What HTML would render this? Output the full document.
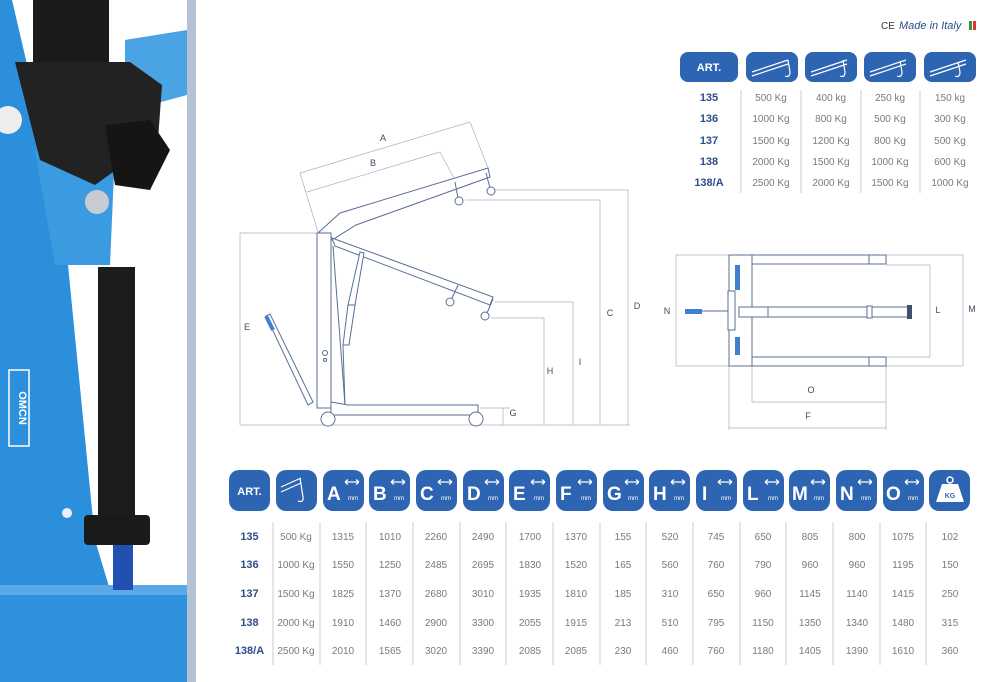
<!DOCTYPE html>
<html><head><meta charset="utf-8"><style>
html,body{margin:0;padding:0;background:#fff;}
svg{display:block;font-family:"Liberation Sans",sans-serif;}
.dim{stroke:#a8b0c0;stroke-width:0.7;fill:none}
.ln{stroke:#5a6f96;stroke-width:1;fill:#fff}
.lab{font-size:9px;fill:#3d4a66;text-anchor:middle}
.hb{fill:#2d65b3}
.ht{fill:#fff;font-weight:bold;}
.c{font-size:10px;fill:#7a7a7a;text-anchor:middle}
.a{font-size:11px;fill:#2c4e8a;font-weight:bold;text-anchor:middle}
.sep{stroke:#c9ccd2;stroke-width:1}
.ar{stroke:#fff;stroke-width:1.2;fill:none}
</style></head><body>
<svg width="1000" height="682" viewBox="0 0 1000 682" xmlns="http://www.w3.org/2000/svg">
<!-- PHOTO -->
<rect x="0" y="0" width="187" height="682" fill="#fff"/>
<polygon points="0,0 12,0 40,120 105,250 105,265 0,265" fill="#2b8fdb"/>
<polygon points="35,150 115,150 110,265 55,265" fill="#3b9be0"/>
<polygon points="125,40 187,30 187,95 150,105 125,90" fill="#4aa3e3"/>
<rect x="33" y="0" width="76" height="78" fill="#1b1b1b"/>
<polygon points="15,62 130,62 162,85 158,140 95,185 40,160" fill="#222"/>
<polygon points="105,125 150,120 170,150 150,190 115,185" fill="#151515"/>
<circle cx="97" cy="202" r="12" fill="#c8ccd2"/>
<circle cx="8" cy="120" r="14" fill="#eee"/>
<rect x="0" y="265" width="187" height="417" fill="#2c8fdc"/>
<polygon points="68,265 187,265 187,590 110,590 95,540" fill="#fff"/>
<rect x="0" y="585" width="187" height="97" fill="#2f92de"/>
<rect x="0" y="585" width="187" height="10" fill="#5aa9e6"/>
<rect x="98" y="267" width="37" height="255" fill="#1c1c1c"/>
<rect x="84" y="515" width="66" height="30" rx="4" fill="#1a1a1a"/>
<rect x="113" y="545" width="20" height="45" fill="#2150b0"/>
<rect x="9" y="370" width="20" height="76" fill="none" stroke="#fff" stroke-width="1.5"/>
<text x="19" y="408" font-size="11" font-weight="bold" fill="#fff" text-anchor="middle" transform="rotate(90 19 408)">OMCN</text>
<circle cx="67" cy="513" r="5" fill="#e8eef5"/>
<rect x="187" y="0" width="9" height="682" fill="#b3c3d3"/>

<!-- CE Made in Italy -->
<text x="881" y="29" font-size="10" fill="#333">CE</text>
<text x="899" y="29" font-size="11" font-style="italic" fill="#2c4e8a">Made in Italy</text>
<rect x="969" y="21" width="3" height="9" fill="#2a9a3a"/><rect x="973" y="21" width="3" height="9" fill="#d33"/>

<!-- TOP TABLE -->
<rect class="hb" x="680" y="52" width="58" height="30" rx="8"/>
<text x="709" y="71" class="ht" font-size="11" text-anchor="middle">ART.</text>
<g>
<rect class="hb" x="746" y="52" width="52" height="30" rx="8"/>
<rect class="hb" x="805" y="52" width="52" height="30" rx="8"/>
<rect class="hb" x="864" y="52" width="52" height="30" rx="8"/>
<rect class="hb" x="924" y="52" width="52" height="30" rx="8"/>
<g stroke="#fff" stroke-width="1.2" fill="none">
<path d="M752 72 L788 60 M752 76 L788 64 M788 60 L790 72 q0 6 -5 4"/>
<path d="M811 72 L847 60 M811 76 L847 64 M843 60 L845 72 q0 6 -5 4"/>
<path d="M870 72 L906 60 M870 76 L906 64 M900 61 L902 72 q0 6 -5 4"/>
<path d="M930 72 L966 60 M930 76 L966 64 M958 62 L960 72 q0 6 -5 4"/>
</g></g>
<g class="sep"><line x1="741" y1="90" x2="741" y2="193"/><line x1="801" y1="90" x2="801" y2="193"/><line x1="861" y1="90" x2="861" y2="193"/><line x1="920" y1="90" x2="920" y2="193"/></g>
<g>
<text class="a" x="709" y="101">135</text><text class="c" x="771" y="101" font-size="9.5">500 Kg</text><text class="c" x="831" y="101" font-size="9.5">400 kg</text><text class="c" x="890" y="101" font-size="9.5">250 kg</text><text class="c" x="950" y="101" font-size="9.5">150 kg</text>
<text class="a" x="709" y="122">136</text><text class="c" x="771" y="122" font-size="9.5">1000 Kg</text><text class="c" x="831" y="122" font-size="9.5">800 Kg</text><text class="c" x="890" y="122" font-size="9.5">500 Kg</text><text class="c" x="950" y="122" font-size="9.5">300 Kg</text>
<text class="a" x="709" y="144">137</text><text class="c" x="771" y="144" font-size="9.5">1500 Kg</text><text class="c" x="831" y="144" font-size="9.5">1200 Kg</text><text class="c" x="890" y="144" font-size="9.5">800 Kg</text><text class="c" x="950" y="144" font-size="9.5">500 Kg</text>
<text class="a" x="709" y="165">138</text><text class="c" x="771" y="165" font-size="9.5">2000 Kg</text><text class="c" x="831" y="165" font-size="9.5">1500 Kg</text><text class="c" x="890" y="165" font-size="9.5">1000 Kg</text><text class="c" x="950" y="165" font-size="9.5">600 Kg</text>
<text class="a" x="709" y="186">138/A</text><text class="c" x="771" y="186" font-size="9.5">2500 Kg</text><text class="c" x="831" y="186" font-size="9.5">2000 Kg</text><text class="c" x="890" y="186" font-size="9.5">1500 Kg</text><text class="c" x="950" y="186" font-size="9.5">1000 Kg</text>
</g>

<!-- CRANE SIDE VIEW -->
<g class="dim">
<line x1="240" y1="425" x2="630" y2="425"/>
<line x1="240" y1="233" x2="240" y2="425"/><line x1="240" y1="233" x2="317" y2="233"/>
<line x1="300" y1="173" x2="470" y2="122"/><line x1="300" y1="173" x2="318" y2="232"/><line x1="470" y1="122" x2="488" y2="168"/>
<line x1="307" y1="192" x2="440" y2="152"/><line x1="440" y1="152" x2="455" y2="180"/>
<line x1="600" y1="200" x2="600" y2="425"/><line x1="465" y1="200" x2="600" y2="200"/>
<line x1="628" y1="190" x2="628" y2="425"/><line x1="495" y1="190" x2="628" y2="190"/>
<line x1="573" y1="302" x2="573" y2="425"/><line x1="495" y1="302" x2="573" y2="302"/>
<line x1="544" y1="318" x2="544" y2="425"/><line x1="490" y1="318" x2="544" y2="318"/>
<line x1="503" y1="408" x2="503" y2="425"/><line x1="480" y1="408" x2="510" y2="408"/>
</g>
<text class="lab" x="247" y="330">E</text><text class="lab" x="383" y="141">A</text><text class="lab" x="373" y="166">B</text>
<text class="lab" x="610" y="316">C</text><text class="lab" x="637" y="309">D</text><text class="lab" x="580" y="365">I</text>
<text class="lab" x="550" y="374">H</text><text class="lab" x="513" y="416">G</text>
<g class="ln">
<polygon points="318,233 340,213 488,168 490,177 356,225 332,240"/>
<polygon points="332,238 493,297 490,305 335,246"/>
<line x1="333" y1="246" x2="345" y2="405"/>
<polygon points="360,252 364,253 355,305 348,305"/>
<polygon points="348,305 355,305 349,345 343,345"/>
<line x1="343" y1="345" x2="345" y2="405"/>
<rect x="317" y="233" width="14" height="175"/>
<polygon points="331,402 348,405 478,405 478,415 331,415"/>
<circle cx="328" cy="419" r="7"/><circle cx="476" cy="419" r="7"/>
<polygon points="266,316 270,314 313,402 308,405"/>
<line x1="455" y1="182" x2="458" y2="198"/><circle cx="459" cy="201" r="4"/>
<line x1="486" y1="173" x2="490" y2="188"/><circle cx="491" cy="191" r="4"/>
<line x1="458" y1="285" x2="452" y2="298"/><circle cx="450" cy="302" r="4"/>
<line x1="493" y1="299" x2="487" y2="313"/><circle cx="485" cy="316" r="4"/>
<circle cx="325" cy="353" r="2.5"/><circle cx="325" cy="360" r="1.5"/>
</g>
<line x1="266" y1="316" x2="273" y2="330" stroke="#3f7fd0" stroke-width="4"/>

<!-- PLAN VIEW -->
<g class="dim">
<line x1="676" y1="255" x2="676" y2="366"/><line x1="676" y1="255" x2="729" y2="255"/><line x1="676" y1="366" x2="729" y2="366"/>
<line x1="963" y1="255" x2="963" y2="366"/><line x1="886" y1="255" x2="963" y2="255"/><line x1="886" y1="366" x2="963" y2="366"/>
<line x1="930" y1="265" x2="930" y2="357"/><line x1="886" y1="265" x2="930" y2="265"/><line x1="886" y1="357" x2="930" y2="357"/>
<line x1="752" y1="402" x2="886" y2="402"/><line x1="752" y1="366" x2="752" y2="402"/><line x1="886" y1="366" x2="886" y2="430"/>
<line x1="729" y1="428" x2="886" y2="428"/><line x1="729" y1="366" x2="729" y2="430"/>
</g>
<text class="lab" x="667" y="314">N</text><text class="lab" x="972" y="312">M</text><text class="lab" x="938" y="313">L</text>
<text class="lab" x="811" y="393">O</text><text class="lab" x="808" y="419">F</text>
<g class="ln">
<rect x="729" y="255" width="23" height="111"/>
<rect x="752" y="255" width="134" height="9"/><rect x="869" y="255" width="17" height="9"/>
<rect x="752" y="357" width="134" height="9"/><rect x="869" y="357" width="17" height="9"/>
<line x1="702" y1="311" x2="729" y2="311"/>
<rect x="728" y="291" width="7" height="39"/>
<rect x="739" y="307" width="170" height="10"/>
<line x1="768" y1="307" x2="768" y2="317"/><rect x="867" y="306" width="5" height="12"/>
</g>
<rect x="685" y="309" width="17" height="5" fill="#3f7fd0"/>
<rect x="735" y="265" width="5" height="25" fill="#3f7fd0"/><rect x="735" y="337" width="5" height="18" fill="#3f7fd0"/>
<rect x="907" y="305" width="5" height="14" fill="#3f4f70"/>

<!-- BOTTOM TABLE HEADERS -->
<g>
<rect class="hb" x="229" y="470" width="41" height="41" rx="10"/><text x="249.5" y="495" class="ht" font-size="11" text-anchor="middle">ART.</text>
<rect class="hb" x="276" y="470" width="41" height="41" rx="10"/>
<path d="M281 487 L301 478 M281 492 L301 483 M300 478 L303 497 q1 6 -5 4" stroke="#fff" stroke-width="1.2" fill="none"/>
</g>
<g font-size="6" fill="#fff">
<rect class="hb" x="323" y="470" width="41" height="41" rx="10"/><text x="327" y="500" class="ht" font-size="19">A</text><text x="348" y="500">mm</text>
<rect class="hb" x="369" y="470" width="41" height="41" rx="10"/><text x="373" y="500" class="ht" font-size="19">B</text><text x="394" y="500">mm</text>
<rect class="hb" x="416" y="470" width="41" height="41" rx="10"/><text x="420" y="500" class="ht" font-size="19">C</text><text x="441" y="500">mm</text>
<rect class="hb" x="463" y="470" width="41" height="41" rx="10"/><text x="467" y="500" class="ht" font-size="19">D</text><text x="488" y="500">mm</text>
<rect class="hb" x="509" y="470" width="41" height="41" rx="10"/><text x="513" y="500" class="ht" font-size="19">E</text><text x="534" y="500">mm</text>
<rect class="hb" x="556" y="470" width="41" height="41" rx="10"/><text x="560" y="500" class="ht" font-size="19">F</text><text x="581" y="500">mm</text>
<rect class="hb" x="603" y="470" width="41" height="41" rx="10"/><text x="607" y="500" class="ht" font-size="19">G</text><text x="628" y="500">mm</text>
<rect class="hb" x="649" y="470" width="41" height="41" rx="10"/><text x="653" y="500" class="ht" font-size="19">H</text><text x="674" y="500">mm</text>
<rect class="hb" x="696" y="470" width="41" height="41" rx="10"/><text x="702" y="500" class="ht" font-size="19">I</text><text x="721" y="500">mm</text>
<rect class="hb" x="743" y="470" width="41" height="41" rx="10"/><text x="747" y="500" class="ht" font-size="19">L</text><text x="768" y="500">mm</text>
<rect class="hb" x="789" y="470" width="41" height="41" rx="10"/><text x="792" y="500" class="ht" font-size="19">M</text><text x="814" y="500">mm</text>
<rect class="hb" x="836" y="470" width="41" height="41" rx="10"/><text x="840" y="500" class="ht" font-size="19">N</text><text x="861" y="500">mm</text>
<rect class="hb" x="883" y="470" width="41" height="41" rx="10"/><text x="886" y="500" class="ht" font-size="19">O</text><text x="908" y="500">mm</text>
<rect class="hb" x="929" y="470" width="41" height="41" rx="10"/>
<circle cx="950" cy="480" r="3" fill="none" stroke="#fff" stroke-width="1.5"/>
<polygon points="942,484 958,484 964,502 936,502" fill="#fff"/>
<text x="950" y="498" font-size="7" font-weight="bold" fill="#2d65b3" text-anchor="middle">KG</text>
</g>
<g class="ar">
<path d="M345 482 h14 M345 482 l3 -2.5 M345 482 l3 2.5 M359 482 l-3 -2.5 M359 482 l-3 2.5"/>
<path d="M391 482 h14 M391 482 l3 -2.5 M391 482 l3 2.5 M405 482 l-3 -2.5 M405 482 l-3 2.5"/>
<path d="M438 482 h14 M438 482 l3 -2.5 M438 482 l3 2.5 M452 482 l-3 -2.5 M452 482 l-3 2.5"/>
<path d="M485 482 h14 M485 482 l3 -2.5 M485 482 l3 2.5 M499 482 l-3 -2.5 M499 482 l-3 2.5"/>
<path d="M531 482 h14 M531 482 l3 -2.5 M531 482 l3 2.5 M545 482 l-3 -2.5 M545 482 l-3 2.5"/>
<path d="M578 482 h14 M578 482 l3 -2.5 M578 482 l3 2.5 M592 482 l-3 -2.5 M592 482 l-3 2.5"/>
<path d="M625 482 h14 M625 482 l3 -2.5 M625 482 l3 2.5 M639 482 l-3 -2.5 M639 482 l-3 2.5"/>
<path d="M671 482 h14 M671 482 l3 -2.5 M671 482 l3 2.5 M685 482 l-3 -2.5 M685 482 l-3 2.5"/>
<path d="M718 482 h14 M718 482 l3 -2.5 M718 482 l3 2.5 M732 482 l-3 -2.5 M732 482 l-3 2.5"/>
<path d="M765 482 h14 M765 482 l3 -2.5 M765 482 l3 2.5 M779 482 l-3 -2.5 M779 482 l-3 2.5"/>
<path d="M811 482 h14 M811 482 l3 -2.5 M811 482 l3 2.5 M825 482 l-3 -2.5 M825 482 l-3 2.5"/>
<path d="M858 482 h14 M858 482 l3 -2.5 M858 482 l3 2.5 M872 482 l-3 -2.5 M872 482 l-3 2.5"/>
<path d="M905 482 h14 M905 482 l3 -2.5 M905 482 l3 2.5 M919 482 l-3 -2.5 M919 482 l-3 2.5"/>
</g>
<g class="sep">
<line x1="273" y1="522" x2="273" y2="665"/><line x1="320" y1="522" x2="320" y2="665"/><line x1="366" y1="522" x2="366" y2="665"/><line x1="413" y1="522" x2="413" y2="665"/><line x1="460" y1="522" x2="460" y2="665"/><line x1="506" y1="522" x2="506" y2="665"/><line x1="553" y1="522" x2="553" y2="665"/><line x1="600" y1="522" x2="600" y2="665"/><line x1="646" y1="522" x2="646" y2="665"/><line x1="693" y1="522" x2="693" y2="665"/><line x1="740" y1="522" x2="740" y2="665"/><line x1="786" y1="522" x2="786" y2="665"/><line x1="833" y1="522" x2="833" y2="665"/><line x1="880" y1="522" x2="880" y2="665"/><line x1="926" y1="522" x2="926" y2="665"/>
</g>
<g>
<text class="a" x="249.5" y="540">135</text><text class="c" x="296" y="540">500 Kg</text><text class="c" x="343" y="540">1315</text><text class="c" x="390" y="540">1010</text><text class="c" x="436" y="540">2260</text><text class="c" x="483" y="540">2490</text><text class="c" x="530" y="540">1700</text><text class="c" x="576" y="540">1370</text><text class="c" x="623" y="540">155</text><text class="c" x="670" y="540">520</text><text class="c" x="716" y="540">745</text><text class="c" x="763" y="540">650</text><text class="c" x="810" y="540">805</text><text class="c" x="857" y="540">800</text><text class="c" x="903" y="540">1075</text><text class="c" x="950" y="540">102</text>
<text class="a" x="249.5" y="568">136</text><text class="c" x="296" y="568">1000 Kg</text><text class="c" x="343" y="568">1550</text><text class="c" x="390" y="568">1250</text><text class="c" x="436" y="568">2485</text><text class="c" x="483" y="568">2695</text><text class="c" x="530" y="568">1830</text><text class="c" x="576" y="568">1520</text><text class="c" x="623" y="568">165</text><text class="c" x="670" y="568">560</text><text class="c" x="716" y="568">760</text><text class="c" x="763" y="568">790</text><text class="c" x="810" y="568">960</text><text class="c" x="857" y="568">960</text><text class="c" x="903" y="568">1195</text><text class="c" x="950" y="568">150</text>
<text class="a" x="249.5" y="597">137</text><text class="c" x="296" y="597">1500 Kg</text><text class="c" x="343" y="597">1825</text><text class="c" x="390" y="597">1370</text><text class="c" x="436" y="597">2680</text><text class="c" x="483" y="597">3010</text><text class="c" x="530" y="597">1935</text><text class="c" x="576" y="597">1810</text><text class="c" x="623" y="597">185</text><text class="c" x="670" y="597">310</text><text class="c" x="716" y="597">650</text><text class="c" x="763" y="597">960</text><text class="c" x="810" y="597">1145</text><text class="c" x="857" y="597">1140</text><text class="c" x="903" y="597">1415</text><text class="c" x="950" y="597">250</text>
<text class="a" x="249.5" y="626">138</text><text class="c" x="296" y="626">2000 Kg</text><text class="c" x="343" y="626">1910</text><text class="c" x="390" y="626">1460</text><text class="c" x="436" y="626">2900</text><text class="c" x="483" y="626">3300</text><text class="c" x="530" y="626">2055</text><text class="c" x="576" y="626">1915</text><text class="c" x="623" y="626">213</text><text class="c" x="670" y="626">510</text><text class="c" x="716" y="626">795</text><text class="c" x="763" y="626">1150</text><text class="c" x="810" y="626">1350</text><text class="c" x="857" y="626">1340</text><text class="c" x="903" y="626">1480</text><text class="c" x="950" y="626">315</text>
<text class="a" x="249.5" y="654">138/A</text><text class="c" x="296" y="654">2500 Kg</text><text class="c" x="343" y="654">2010</text><text class="c" x="390" y="654">1565</text><text class="c" x="436" y="654">3020</text><text class="c" x="483" y="654">3390</text><text class="c" x="530" y="654">2085</text><text class="c" x="576" y="654">2085</text><text class="c" x="623" y="654">230</text><text class="c" x="670" y="654">460</text><text class="c" x="716" y="654">760</text><text class="c" x="763" y="654">1180</text><text class="c" x="810" y="654">1405</text><text class="c" x="857" y="654">1390</text><text class="c" x="903" y="654">1610</text><text class="c" x="950" y="654">360</text>
</g>
</svg>
</body></html>
